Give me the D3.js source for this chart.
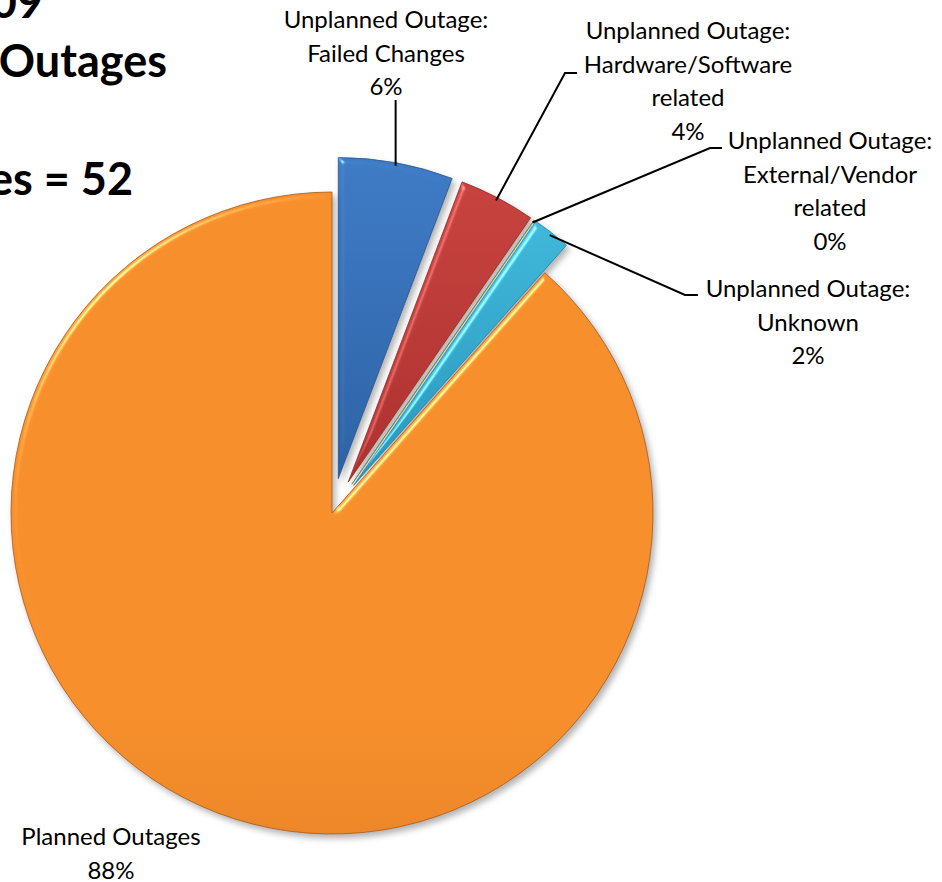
<!doctype html>
<html>
<head>
  <meta charset="utf-8">
  <script src="https://cdnjs.cloudflare.com/ajax/libs/d3/7.8.5/d3.min.js"></script>
  <style>
    body { margin: 0; background: #fff; }
    text { font-family: Lato, 'Open Sans', sans-serif; fill: #000; }
    .title { font-weight: bold; font-size: 45px; }
    .label { font-size: 24px; }
    .leader { stroke: #000; stroke-width: 2px; fill: none; }
  </style>
</head>
<body>
  <script>
    // chart data
    const categories = ['Unplanned Outage: Failed Changes', 'Unplanned Outage: Hardware/Software related',
      'Unplanned Outage: External/Vendor related', 'Unplanned Outage: Unknown', 'Planned Outages'];
    const counts = [3, 2, 0, 1, 46];
    const labelLines = [
      ['Unplanned Outage:', 'Failed Changes'],
      ['Unplanned Outage:', 'Hardware/Software', 'related'],
      ['Unplanned Outage:', 'External/Vendor', 'related'],
      ['Unplanned Outage:', 'Unknown'],
      ['Planned Outages']
    ];
    const explodedSlice = [true, true, true, true, false];
    const titleLines = ['2009', 'Planned vs. Unplanned Outages', '', 'Total Outages = 52'];

    // layout
    const width = 942, height = 882;
    const cx = 332, cy = 513, radius = 321, explode = 35;
    const colors = [['#3f7cc6', '#2e63a6'], ['#c8433f', '#ad3230'], ['#9bbb59', '#7d9a3f'],
                    ['#40b8da', '#2a97bb'], ['#f7902c', '#c4661f']];
    // label position: centre x, first baseline
    const labelPos = [[386, 28], [688, 39], [830, 149], [808, 297], [111, 845]];
    // leader: bend point + end of the short tick (null = straight up to label)
    const leaderBend = [[null, 100], [565, 73, 577], [710, 148, 722], [685, 295, 698], null];
    const lineStep = 33.5;
    const titleRight = [43, 167, 0, 133];
    const titleBase = [18, 77, 136, 195];

    const total = d3.sum(counts);
    const pct = d3.format('.0%');

    const svg = d3.select('body').append('svg')
      .attr('width', width)
      .attr('height', height);

    const defs = svg.append('defs');
    colors.forEach((c, i) => {
      const g = defs.append('linearGradient')
        .attr('id', 'grad' + i)
        .attr('x1', 0).attr('y1', 0).attr('x2', 0).attr('y2', 1);
      if (i === 4) {
        g.attr('gradientUnits', 'userSpaceOnUse')
          .attr('y1', cy - radius).attr('y2', cy + radius);
      }
      g.append('stop').attr('offset', '0%').attr('stop-color', c[0]);
      g.append('stop').attr('offset', '100%').attr('stop-color', c[1]);
    });

    const filter = defs.append('filter').attr('id', 'bevel')
      .attr('color-interpolation-filters', 'sRGB')
      .attr('x', '-10%').attr('y', '-10%').attr('width', '125%').attr('height', '125%');
    filter.append('feGaussianBlur').attr('in', 'SourceAlpha').attr('stdDeviation', 3).attr('result', 'blur');
    filter.append('feSpecularLighting').attr('in', 'blur').attr('surfaceScale', 4)
      .attr('specularConstant', 0.45).attr('specularExponent', 50)
      .attr('lighting-color', '#ffffff').attr('result', 'spec')
      .append('feDistantLight').attr('azimuth', 225).attr('elevation', 35);
    filter.append('feComposite').attr('in', 'spec').attr('in2', 'SourceAlpha')
      .attr('operator', 'in').attr('result', 'specIn');
    filter.append('feComposite').attr('in', 'SourceGraphic').attr('in2', 'specIn')
      .attr('operator', 'arithmetic').attr('k1', 0).attr('k2', 1).attr('k3', 1).attr('k4', 0)
      .attr('result', 'lit');
    filter.append('feOffset').attr('in', 'SourceAlpha').attr('dx', 3).attr('dy', 4).attr('result', 'off');
    filter.append('feGaussianBlur').attr('in', 'off').attr('stdDeviation', 3).attr('result', 'offBlur');
    filter.append('feFlood').attr('flood-color', '#000').attr('flood-opacity', 0.3);
    filter.append('feComposite').attr('in2', 'offBlur').attr('operator', 'in').attr('result', 'shadow');
    const merge = filter.append('feMerge');
    merge.append('feMergeNode').attr('in', 'shadow');
    merge.append('feMergeNode').attr('in', 'lit');

    const pie = d3.pie().sort(null).value(d => d);
    const arcs = pie(counts);
    const arc = d3.arc().innerRadius(0).outerRadius(radius);

    function offset(d, i) {
      if (!explodedSlice[i]) return [0, 0];
      const a = (d.startAngle + d.endAngle) / 2;
      return [explode * Math.sin(a), -explode * Math.cos(a)];
    }

    const chart = svg.append('g').attr('transform', `translate(${cx},${cy})`);

    chart.selectAll('path.slice')
      .data(arcs)
      .join('path')
      .attr('class', 'slice')
      .attr('transform', (d, i) => `translate(${offset(d, i)})`)
      .attr('d', arc)
      .attr('fill', (d, i) => `url(#grad${i})`)
      .attr('stroke', (d, i) => d3.color(colors[i][1]).darker(0.4))
      .attr('stroke-width', 0.8)
      .attr('filter', 'url(#bevel)');

    // leader lines
    arcs.forEach((d, i) => {
      const bend = leaderBend[i];
      if (!bend) return;
      const a = (d.startAngle + d.endAngle) / 2;
      const o = offset(d, i);
      const r = radius - 3;
      const sx = cx + o[0] + r * Math.sin(a);
      const sy = cy + o[1] - r * Math.cos(a);
      let pts;
      if (bend[0] === null) pts = [[sx, sy], [sx, bend[1]]];
      else pts = [[sx, sy], [bend[0], bend[1]], [bend[2], bend[1]]];
      svg.append('path').attr('class', 'leader').attr('d', d3.line()(pts));
    });

    // data labels
    arcs.forEach((d, i) => {
      const lines = labelLines[i].concat([pct(counts[i] / total)]);
      const t = svg.append('text')
        .attr('class', 'label')
        .attr('text-anchor', 'middle');
      lines.forEach((s, k) => {
        t.append('tspan')
          .attr('x', labelPos[i][0])
          .attr('y', labelPos[i][1] + k * lineStep)
          .text(s);
      });
    });

    // title (runs off the left edge)
    titleLines.forEach((s, i) => {
      if (!s) return;
      svg.append('text')
        .attr('class', 'title')
        .attr('text-anchor', 'end')
        .attr('x', titleRight[i])
        .attr('y', titleBase[i])
        .text(s);
    });
  </script>
</body>
</html>
